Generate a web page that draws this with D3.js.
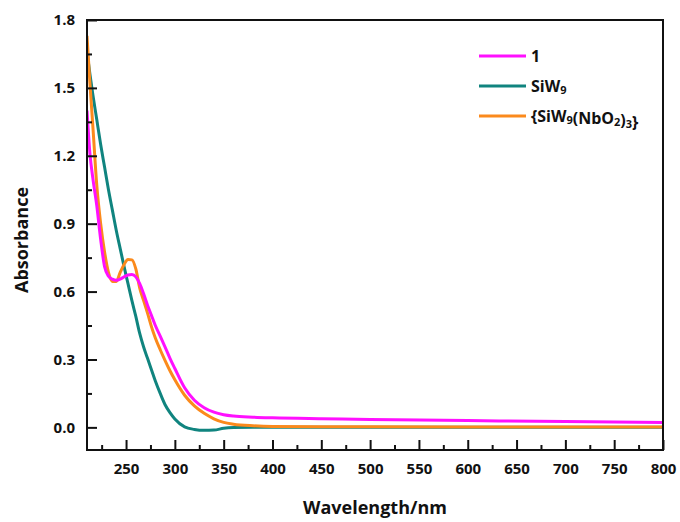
<!DOCTYPE html>
<meta charset="utf-8">
<style>
  body { margin: 0; background: #fff; }
  text { font-family: "Open Sans", sans-serif; font-weight: bold; fill: #111; }
</style>
<svg width="680" height="522"></svg>
<script src="https://cdn.jsdelivr.net/npm/d3@7"></script>
<script>
// wavelengths (nm) shared by all three spectra
var wavelength = [210, 213, 216, 220, 224, 228, 232, 236, 240, 244, 248, 252, 256, 260, 264, 268, 272, 276, 280, 285,
    290, 295, 300, 310, 320, 330, 340, 350, 360, 380, 400, 450, 500, 600, 700, 800];

// compound 1 (magenta)
var absCompound1 = [1.40, 1.21, 1.10, 0.98, 0.83, 0.71, 0.668, 0.655, 0.65, 0.655, 0.665, 0.673, 0.675, 0.665, 0.635, 0.59,
    0.54, 0.495, 0.45, 0.403, 0.355, 0.305, 0.26, 0.175, 0.12, 0.087, 0.067, 0.056, 0.050, 0.045, 0.042, 0.038, 0.035, 0.030, 0.026, 0.022];

// SiW9 (teal)
var absSiW9 = [1.66, 1.56, 1.47, 1.36, 1.25, 1.15, 1.05, 0.96, 0.87, 0.79, 0.71, 0.635, 0.56, 0.49, 0.415, 0.355,
    0.305, 0.255, 0.205, 0.15, 0.10, 0.065, 0.037, 0.002, -0.009, -0.013, -0.012, -0.004, -0.001, 0, 0, 0, 0, 0, 0, 0];

// {SiW9(NbO2)3} (orange)
var absSiW9Nb = [1.73, 1.52, 1.33, 1.07, 0.90, 0.775, 0.685, 0.645, 0.645, 0.685, 0.72, 0.742, 0.74, 0.70, 0.615, 0.56,
    0.505, 0.445, 0.395, 0.343, 0.295, 0.25, 0.21, 0.142, 0.095, 0.062, 0.038, 0.022, 0.014, 0.007, 0.004, 0.003, 0.003, 0.002, 0.002, 0.002];

var xTicks = [250, 300, 350, 400, 450, 500, 550, 600, 650, 700, 750, 800];
var xMinor = [225, 275, 325, 375, 425, 475, 525, 575, 625, 675, 725, 775];
var yTicks = [0.0, 0.3, 0.6, 0.9, 1.2, 1.5, 1.8];
var yMinor = [0.15, 0.45, 0.75, 1.05, 1.35, 1.65];

var seriesNames = ["1", "SiW9", "{SiW9(NbO2)3}"];
var seriesColors = ["#ff10ff", "#10847f", "#fb8a1c"];
var seriesValues = [absCompound1, absSiW9, absSiW9Nb];

var svg = d3.select("svg"),
    margin = {top: 20, right: 17, bottom: 72, left: 87},
    width = +svg.attr("width"),
    height = +svg.attr("height");

var x = d3.scaleLinear()
    .domain([210, 800])
    .range([margin.left, width - margin.right]);

var y = d3.scaleLinear()
    .domain([-0.1, 1.8])
    .range([height - margin.bottom, margin.top]);

svg.append("clipPath").attr("id", "plot")
    .append("rect")
    .attr("x", margin.left).attr("y", margin.top)
    .attr("width", width - margin.right - margin.left)
    .attr("height", height - margin.bottom - margin.top);

var line = d3.line()
    .x(function(d) { return x(d[0]); })
    .y(function(d) { return y(d[1]); })
    .curve(d3.curveMonotoneX);

// draw SiW9 first so the other two sit on top like in the figure
[1, 2, 0].forEach(function(i) {
    var pts = wavelength.map(function(w, j) { return [w, seriesValues[i][j]]; });
    svg.append("path")
        .datum(pts)
        .attr("clip-path", "url(#plot)")
        .attr("fill", "none")
        .attr("stroke", seriesColors[i])
        .attr("stroke-width", 3)
        .attr("d", line);
});

// x axis, ticks point inward
svg.append("g")
    .attr("transform", "translate(0," + (height - margin.bottom) + ")")
    .call(d3.axisBottom(x).tickValues(xTicks).tickSize(-10).tickPadding(13).tickFormat(d3.format("d")));
svg.append("g")
    .attr("transform", "translate(0," + (height - margin.bottom) + ")")
    .call(d3.axisBottom(x).tickValues(xMinor).tickSize(-5).tickFormat(""));

svg.append("g")
    .attr("transform", "translate(" + margin.left + ",0)")
    .call(d3.axisLeft(y).tickValues(yTicks).tickSize(-10).tickPadding(12).tickFormat(d3.format(".1f")));
svg.append("g")
    .attr("transform", "translate(" + margin.left + ",0)")
    .call(d3.axisLeft(y).tickValues(yMinor).tickSize(-5).tickFormat(""));

svg.selectAll(".domain").remove();
svg.selectAll(".tick line").attr("stroke", "#111").attr("stroke-width", 2);
svg.selectAll(".tick text").style("font-size", "15px").style("font-family", "'Open Sans', sans-serif").style("font-weight", "bold").attr("fill", "#111");

// frame
svg.append("rect")
    .attr("x", margin.left).attr("y", margin.top)
    .attr("width", width - margin.right - margin.left)
    .attr("height", height - margin.bottom - margin.top)
    .attr("fill", "none")
    .attr("stroke", "#111")
    .attr("stroke-width", 2);

// axis titles
svg.append("text")
    .attr("x", 375)
    .attr("y", 514)
    .style("text-anchor", "middle")
    .style("font-size", "18px")
    .text("Wavelength/nm");

svg.append("text")
    .attr("transform", "translate(28,240) rotate(-90)")
    .style("text-anchor", "middle")
    .style("font-size", "18px")
    .text("Absorbance");

// legend
var legend = svg.append("g");
seriesNames.forEach(function(name, i) {
    var ly = 56 + i * 30;
    legend.append("line")
        .attr("x1", 479).attr("x2", 526)
        .attr("y1", ly).attr("y2", ly)
        .attr("stroke", seriesColors[i])
        .attr("stroke-width", 3);
    var t = legend.append("text")
        .attr("x", 531)
        .attr("y", ly + 6)
        .style("font-size", "16px");
    // digits after letters/brackets become small subscripts
    var parts = name === "1" ? [["1", false]] : name.match(/[A-Za-z{}()]+|\d+/g).map(function(p) {
        return [p, /^\d+$/.test(p)];
    });
    parts.forEach(function(p) {
        t.append("tspan")
            .style("font-size", p[1] ? "11px" : "16px")
            .attr("dy", p[1] ? 2 : 0)
            .text(p[0]);
        if (p[1]) t.append("tspan").attr("dy", -2).text("");
    });
});
</script>
